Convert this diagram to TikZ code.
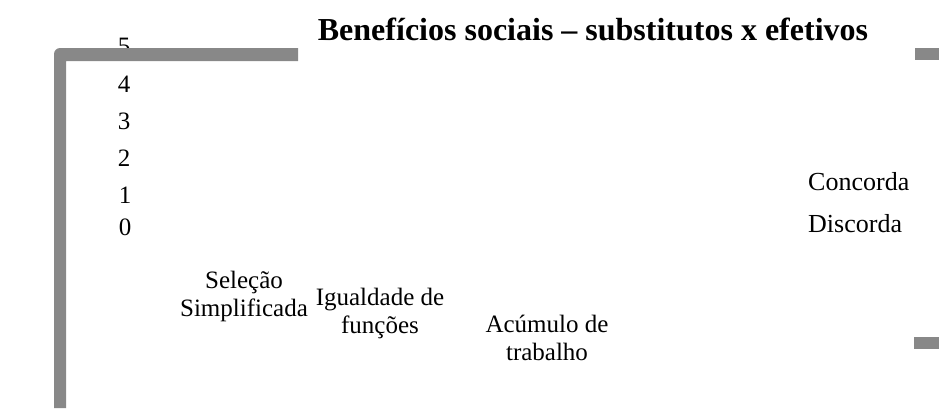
\documentclass[tikz,border=0pt]{standalone}
\usepackage{fontspec}
\setmainfont{Liberation Serif}
\definecolor{framegray}{RGB}{136,136,136}
\tikzset{
  lbl/.style={inner sep=0pt, font=\fontsize{25}{28}\selectfont},
  leg/.style={inner sep=0pt, font=\fontsize{26}{28}\selectfont},
  cat/.style={lbl, align=center},
  ttl/.style={inner sep=0pt, font=\fontsize{32}{36}\selectfont\bfseries},
  bar/.style={fill=framegray, draw=none}
}
\begin{document}
\begin{tikzpicture}[x=1pt,y=-1pt]
\useasboundingbox (0,0) rectangle (939,408);
% axis numbers
\node[lbl] (y5) at (124,46) {5};
% frame
\fill[framegray] (54,408) [rounded corners=6pt]-- (54,48) [sharp corners]-- (298,48) -- (298,61) -- (66,61) -- (66,408) -- cycle;
\fill[framegray] (915,48) rectangle (939,60);
\fill[framegray] (914,337) rectangle (939,349);
\node[lbl] (y4) at (124,84) {4};
\node[lbl] (y3) at (124,121) {3};
\node[lbl] (y2) at (124,158) {2};
\node[lbl] (y1) at (125,195) {1};
\node[lbl] (y0) at (125,227) {0};
% title
\node[ttl, anchor=base] (title) at (593,40) {Benefícios sociais – substitutos x efetivos};
% legend
\node[leg, anchor=base west] (conc) at (808,190) {Concorda};
\node[leg, anchor=base west] (disc) at (808,232) {Discorda};
% categories
\node[cat] (c1) at (244,296) {Seleção\\Simplificada};
\node[cat] (c2) at (380,313) {Igualdade de\\funções};
\node[cat] (c3) at (547,338) {Acúmulo de\\trabalho};
\end{tikzpicture}
\end{document}
